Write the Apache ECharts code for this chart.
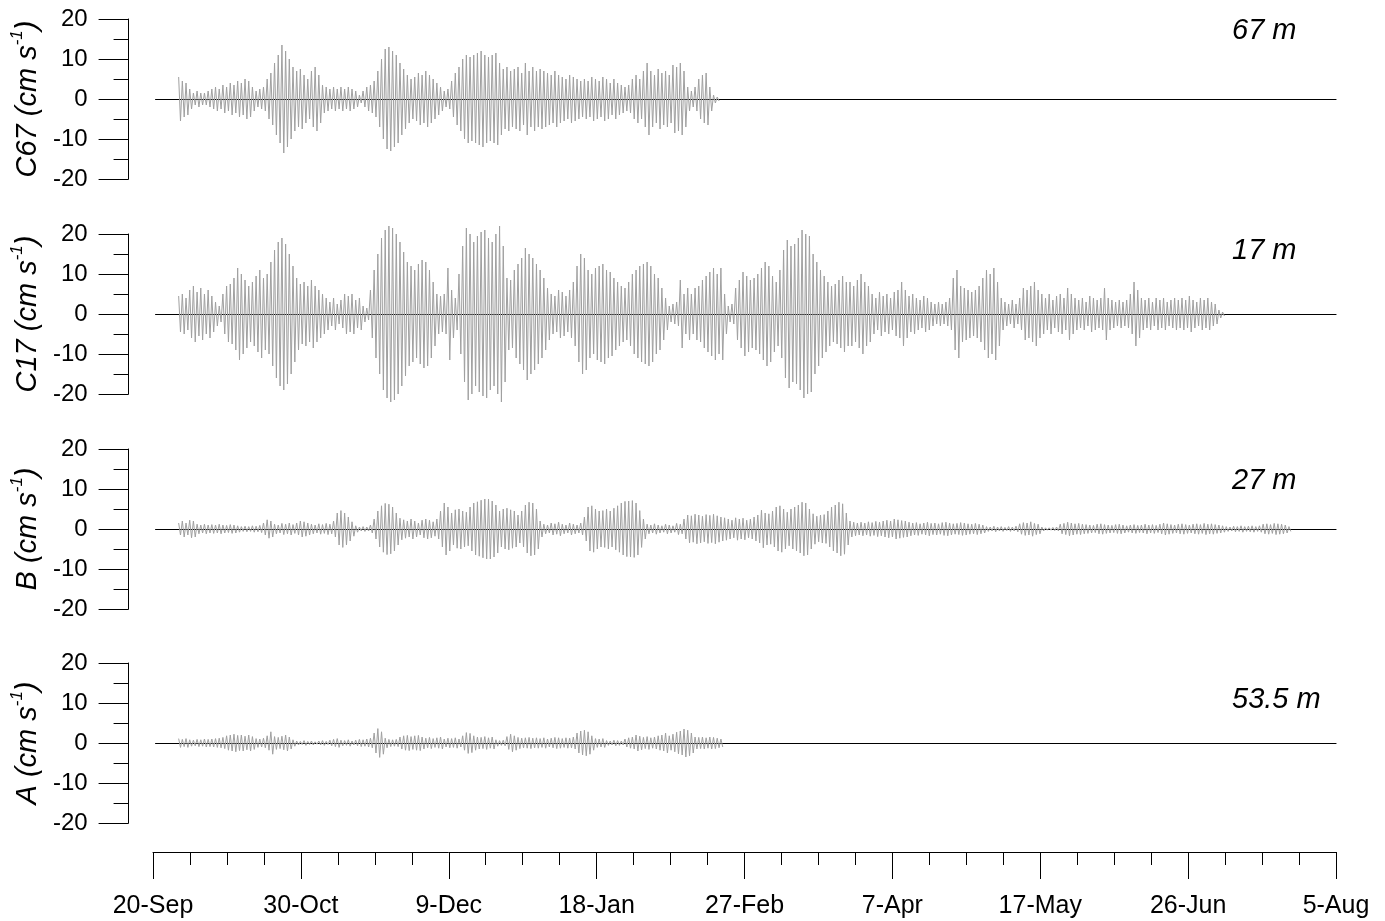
<!DOCTYPE html>
<html>
<head>
<meta charset="utf-8">
<script src="https://cdn.jsdelivr.net/npm/echarts@6/dist/echarts.min.js"></script>
<style>html,body{margin:0;padding:0;background:#fff;}#chart{width:1385px;height:921px;}</style>
</head>
<body>
<div id="chart"></div>
<script>
// ---- data (cm/s), daily oscillation amplitude; day 0 = 20-Sep ----
const xTickLabels = ['20-Sep','30-Oct','9-Dec','18-Jan','27-Feb','7-Apr','17-May','26-Jun','5-Aug'];
const yTicks = [-20, -10, 0, 10, 20];
const panelNames = ['C67', 'C17', 'B', 'A'];
const depthLabels = ['67 m', '17 m', '27 m', '53.5 m'];

const c67Start = 6;
const c67Amp = [5.5,4.5,4,2.5,1.5,2,1.5,1.5,2,2.5, 3,2.5,3.5,3,4,3.5,4.5,4,5,4.5,
  3,2,2.5,3,5,6.5,9,11,13.5,12, 10,8,7,7.5,6,5,7,8,6,3.5,
  3,2.5,3,2.5,3,2.5,3,2.5,2,1, 2,3,3.5,4.5,7,10,12.5,13,12,11,
  9,7.5,6,5,5.5,6.5,6,7,6,5, 4,3,2,2.5,4.5,6.5,8,10,11,10.5,
  11,11.5,12,11,10.5,11,11.5,9,7.5,8, 7,7.5,8,6.5,9,7,8,7,7.5,7,
  6.5,6,7,6,5.5,5,6,5.5,5,4.5, 5,4.5,5.5,5,4.5,5.5,5,4,5,4,
  3.5,3,3.5,5,6,5,7,9,7,6, 7.5,6.5,7,6,8.5,8,9,7,3,2,
  3,5,6,6.5,3,1,0.5];

const c17Start = 6;
const c17Amp = [4.5,5,4,6,7,5.5,6.5,5,6,4.5, 3,2,5,7,7.5,9,11.5,10,8.5,7,
  8,9.5,11,9,10,13,16,18,19,17.5, 15,12,9,7.5,8,7,8.5,7,6,5,
  4,3,4,2.5,3.5,5,4.5,5,3.5,4, 2,1.5,6,11,15,19,21,22,21.5,20,
  18,15.5,13,12,11,12.5,13.5,13,11,8, 5,4.5,5,11.5,6,4,10,17,21.5,20,
  18,19.5,20.5,21,19,18,20,22,17,9, 8.5,11,12.5,14,16.5,15,14,12.5,11,9,
  6.5,5,4.5,6,5.5,4.5,6,8,12,15, 14,11,10,11.5,12,12.5,11,10.5,9,8,
  7,6.5,8,10,11,12,12.5,13,12,10, 9,6.5,4,2,2.5,3,8.5,5,6.5,5,
  6.5,7,8.5,9.5,10.5,11.5,10,11.5,5,2, 2.5,6.5,8.5,10.5,9.5,8.5,9,10,11.5,13,
  12,9.5,8,11,16,18.5,17,17.5,19,21, 20,19.5,15,13,11,9.5,8,7,7.5,8.5,
  9.5,8,8,7,8.5,10,8,7,5,4, 5.5,4.5,5,4,5.5,6,8,6,4.5,5,
  4,3.5,4.5,4,3,2.5,3,2.5,3,4, 9,11,7,6.5,6,5.5,6,7,9,11,
  10,11.5,8,4,3,2.5,3.5,2.5,4,6.5, 6,7,8,6,5,4,5,3.5,4.5,5,
  4,6.5,5,4,3.5,4,3,4.5,4,3.5, 4,6.5,4,3.5,3,3.5,3,3.5,5,8,
  6,4,3.5,4,3,4,3.5,4,3,3.5, 4,3.5,4,3.5,4.5,3.5,3,4,3.5,4,
  3,2.5,1,0.5];

const bStart = 6;
const bAmp = [1.5,2,1.5,2.2,2,1.2,1,1.2,1,1.1, 1,1.2,1,0.9,1.1,1,0.8,0.6,0.7,0.6,
  0.8,0.7,0.9,1.5,2.3,2,1.2,1,1.4,1.2, 1.5,1.1,1.5,2,1.8,1.5,1.2,1,1.3,1.1,
  1.4,1.2,2,4,4.6,4,3,1.8,0.8,0.5, 0.6,0.5,1,2.5,4.5,5.8,6.4,6.2,5.5,4,
  2.7,2.3,2,2.5,2,1.5,2.2,2.5,2.2,1.8, 2.5,4.5,6.5,5.5,4,4.8,5,4.5,4.2,5.5,
  6.5,6.8,7.2,7.5,7.5,7,6,4.5,5,5.2, 4.8,4.5,3.5,4.5,6,6.7,6.5,5,2,1.2,
  1,1.5,1.3,1.7,1.2,1,1.5,1.2,1,1.5, 3,5.5,5.8,5,4.5,4.6,5,4.5,5.2,5.8,
  6.5,6.9,7,7.1,6.5,4.6,2.5,1.2,1,1.3, 1,0.8,1.2,1,0.8,1.4,1.2,2.5,3.5,3.3,
  3.7,3.5,3.2,3.6,3.4,3.7,3.3,3,2.8,2.5, 2.2,2.8,2.5,2.7,2.2,2.5,3,3.5,4.7,4,
  3.8,4.5,5.5,5.8,5,4.2,5,5.5,6,6.7, 6.5,5,3.8,3.2,3.5,3.6,4.5,5.5,6,6.7,
  6.3,4,2,1.7,1.5,1.7,1.5,1.8,1.6,1.9, 1.7,2,2.2,2,2.5,2.3,2.1,2,1.7,1.5,
  1.6,1.3,1.5,1.7,1.4,1.5,1.3,1.6,1.7,1.5, 1.3,1.4,1.6,1.5,1.3,1.2,1.4,1.2,1,0.6,
  0.5,0.7,0.5,0.6,0.4,0.6,0.5,0.7,1.3,1.6, 1.5,1.8,1.4,1.2,0.5,0.3,0.3,0.4,0.5,1.2,
  1.4,1.7,1.5,1.3,1.4,1.2,1.1,1,0.9,1.2, 1.3,1.1,1,0.9,1.1,1.2,1,0.8,1,1.1,
  0.9,1,1.2,1,1.1,0.9,1.2,1.5,1.3,1.1, 1,1.2,1.3,1.1,1,1.2,1.3,1.1,1.4,1.2,
  1.3,1.1,1,0.8,0.6,0.5,0.7,0.6,0.8,0.6, 0.7,0.8,0.6,0.8,1.2,1.3,1.1,1.4,1.3,1.2,
  1,0.6];

const aStart = 6;
const aAmp = [1.1,0.9,1.1,0.8,0.7,0.9,0.8,1,0.9,1, 1.1,1.2,1.4,1.8,2,2.2,1.9,2,1.7,2,
  1.6,1.1,1,1.2,1.8,2.8,1.6,1.4,1.7,2, 1.5,0.8,0.5,0.4,0.6,0.4,0.5,0.3,0.5,0.6,
  0.4,0.7,0.9,1.1,0.7,0.6,0.8,0.5,0.7,0.9, 0.8,1,1.2,2.5,3.6,2.8,1.2,0.9,0.8,0.9,
  1.5,1.8,1.9,1.6,1.8,1.9,1.5,1.2,1.4,1.1, 1.3,1.5,1,1.2,1.1,1.3,1,1.8,2.6,2.4,
  1.8,1.5,1.4,1.6,1.3,1.5,0.8,0.6,0.7,1.6, 2.2,1.8,1.4,1.2,1.3,1.4,1.2,1.3,1.1,1.3,
  1,1.2,1.4,1.3,1.1,1.3,1.2,1.5,2.5,3, 3.2,2.8,1.8,1.1,1,1.1,0.6,0.5,0.7,0.6,
  0.5,1,1.3,1.5,2,1.7,1.4,1.6,1.3,1.5, 1.8,2,2.5,1.8,2.2,2.7,3,3.5,3.2,2.5,
  1.5,1.4,1.5,1.3,1.5,1.4,1.2,1];

// ---- build ----
const panels = [
  {start: c67Start, amp: c67Amp},
  {start: c17Start, amp: c17Amp},
  {start: bStart, amp: bAmp},
  {start: aStart, amp: aAmp}
];
function toLine(p) {
  const out = [];
  p.amp.forEach((v, i) => {
    out.push([p.start + i + 0.25, v]);
    out.push([p.start + i + 0.75, -v]);
  });
  return out;
}

const FONT = 'Arial, "Liberation Sans", sans-serif';
const tops = [19, 234, 449, 663];
const labelTops = [16, 236, 466, 685];
const grids = [], xAxes = [], yAxes = [], series = [], graphics = [];
tops.forEach((t, k) => {
  grids.push({left: 153, right: 49, top: t, height: 160});
  xAxes.push({
    type: 'value', gridIndex: k, min: 0, max: 320,
    axisLine: {show: true, onZero: true, lineStyle: {color: '#000', width: 1.2}},
    axisTick: {show: false}, axisLabel: {show: false}, splitLine: {show: false}
  });
  yAxes.push({
    type: 'value', gridIndex: k, min: yTicks[0], max: yTicks[yTicks.length - 1], interval: 10,
    offset: 27,
    axisLine: {show: true, onZero: false, lineStyle: {color: '#000', width: 1}},
    axisTick: {show: true, length: 30, lineStyle: {color: '#000', width: 1}},
    minorTick: {show: true, splitNumber: 2, length: 15, lineStyle: {color: '#000', width: 1}},
    axisLabel: {color: '#000', fontSize: 24, fontFamily: FONT, margin: 41},
    splitLine: {show: false},
    name: '{i|' + panelNames[k] + ' (cm s}{s|-1}{i|)}',
    nameLocation: 'middle', nameGap: 78,
    nameTextStyle: {
      rich: {
        i: {fontSize: 29, fontStyle: 'italic', fontFamily: FONT, color: '#000', lineHeight: 34, verticalAlign: 'bottom'},
        s: {fontSize: 17, fontStyle: 'italic', fontFamily: FONT, color: '#000', lineHeight: 34, verticalAlign: 'top', padding: [1, 0, 0, 0]}
      }
    }
  });
  series.push({
    type: 'line', xAxisIndex: k, yAxisIndex: k, data: toLine(panels[k]),
    showSymbol: false, symbol: 'none', silent: true, clip: false,
    lineStyle: {color: '#a0a0a0', width: 1}, z: 1
  });
  graphics.push({
    type: 'text', left: 1232, top: labelTops[k],
    style: {text: depthLabels[k], font: 'italic 29px ' + FONT, fill: '#000'}
  });
});
// bottom date axis
grids.push({left: 153, right: 49, top: 851, height: 1});
xAxes.push({
  type: 'value', gridIndex: 4, min: 0, max: 320, interval: 40, position: 'bottom',
  axisLine: {show: true, onZero: false, lineStyle: {color: '#000', width: 1}},
  axisTick: {show: true, length: 27, lineStyle: {color: '#000', width: 1}},
  minorTick: {show: true, splitNumber: 4, length: 13, lineStyle: {color: '#000', width: 1}},
  axisLabel: {color: '#000', fontSize: 25, fontFamily: FONT, margin: 42,
    formatter: v => xTickLabels[Math.round(v / 40)]},
  splitLine: {show: false}
});
yAxes.push({type: 'value', gridIndex: 4, show: false, min: 0, max: 1});

const chart = echarts.init(document.getElementById('chart'), null, {renderer: 'canvas'});
chart.setOption({
  animation: false,
  backgroundColor: '#fff',
  grid: grids, xAxis: xAxes, yAxis: yAxes, series: series,
  graphic: graphics
});
</script>
</body>
</html>
